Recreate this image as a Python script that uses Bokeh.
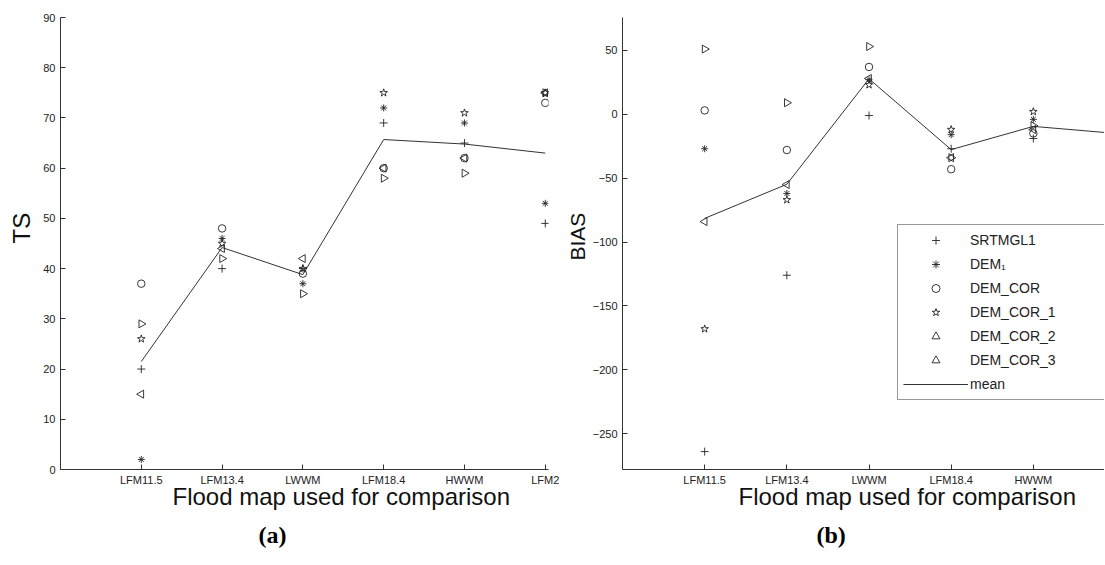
import numpy as np
from bokeh.plotting import figure
from bokeh.models import Range1d, FixedTicker, Legend, LegendItem, Title
from bokeh.layouts import row
from bokeh.embed import file_html
from bokeh.resources import INLINE

# ---------------- data ----------------
tick_labels_a = ["LFM11.5", "LFM13.4", "LWWM", "LFM18.4", "HWWM", "LFM2"]
tick_labels_b = ["LFM11.5", "LFM13.4", "LWWM", "LFM18.4", "HWWM"]

# (a) TS
ts_srtmgl1 = [20, 40, 40, 69, 65, 49]
ts_dem1 = [2, 46, 37, 72, 69, 53]
ts_dem_cor = [37, 48, 39, 60, 62, 73]
ts_dem_cor_1 = [26, 45, 40, 75, 71, 75]
ts_dem_cor_2 = [29, 42, 35, 58, 59, 75]
ts_dem_cor_3 = [15, 44, 42, 60, 62, 75]
ts_mean = [21.5, 44.2, 38.8, 65.7, 64.8, 63.0]

# (b) BIAS
bias_srtmgl1 = [-264, -126, -1, -27, -19]
bias_dem1 = [-27, -62, 27, -16, -4]
bias_dem_cor = [3, -28, 37, -43, -15]
bias_dem_cor_1 = [-168, -67, 23, -12, 2]
bias_dem_cor_2 = [51, 9, 53, -34, -9]
bias_dem_cor_3 = [-84, -55, 28, -34, -12]
bias_mean = [-81.5, -54.8, 27.7, -27.7, -9.5, -15.0]

series_names = ["SRTMGL1", "DEM\u2081", "DEM_COR", "DEM_COR_1", "DEM_COR_2", "DEM_COR_3"]
x_title = "Flood map used for comparison"

INK = "#222222"
AX = "#333333"
FONT = "Liberation Sans"
H = 564
TOP = 17
BOTTOM = 95


def style(p):
    p.outline_line_color = None
    p.xgrid.visible = False
    p.ygrid.visible = False
    p.background_fill_color = "white"
    p.border_fill_color = "white"
    for ax in (p.xaxis[0], p.yaxis[0]):
        ax.axis_line_color = AX
        ax.axis_line_width = 1
        ax.major_tick_line_color = AX
        ax.major_tick_in = 5
        ax.major_tick_out = 0
        ax.minor_tick_line_color = None
        ax.major_label_text_font = FONT
        ax.major_label_text_font_size = "11px"
        ax.major_label_text_color = INK
    p.xaxis[0].major_label_standoff = 4
    p.yaxis[0].major_label_standoff = 5


def add_titles(p, ylabel, ysize, yoff, ystand, xoff, caption, coff):
    p.add_layout(Title(text=ylabel, align="left", offset=yoff, standoff=ystand,
                       text_font=FONT, text_font_size=ysize, text_font_style="normal",
                       text_color="#111111"), "left")
    p.add_layout(Title(text=x_title, align="left", offset=xoff, standoff=-11,
                       vertical_align="top",
                       text_font=FONT, text_font_size="24px", text_font_style="normal",
                       text_color="#111111"), "below")
    p.add_layout(Title(text=caption, align="left", offset=coff, standoff=30,
                       vertical_align="top",
                       text_font="Liberation Serif", text_font_size="24px",
                       text_font_style="bold", text_color="#000000"), "below")


def add_points(p, vals_list):
    xs = [i + 1 for i in range(len(vals_list[0]))]
    rs = []
    specs = [
        dict(marker="cross", size=8),
        dict(marker="asterisk", size=7),
        dict(marker="circle", size=7.5),
        dict(marker="star", size=8),
        dict(marker="triangle", size=8, angle=-np.pi / 2),
        dict(marker="triangle", size=8, angle=np.pi / 2),
    ]
    for vals, sp in zip(vals_list, specs):
        r = p.scatter(xs, vals, line_color=INK, fill_color=None, line_width=0.9, **sp)
        rs.append(r)
    return rs


# ---------------- panel (a) ----------------
p1 = figure(width=562, height=H, output_backend="svg", toolbar_location=None,
            x_range=Range1d(0, 6.04), y_range=Range1d(0, 90),
            min_border_left=60, min_border_right=14, min_border_top=TOP, min_border_bottom=BOTTOM)
style(p1)
p1.xaxis[0].ticker = FixedTicker(ticks=list(range(1, len(tick_labels_a) + 1)))
p1.xaxis[0].major_label_overrides = {i + 1: t for i, t in enumerate(tick_labels_a)}
p1.yaxis[0].ticker = FixedTicker(ticks=list(range(0, 91, 10)))

p1.line([i + 1 for i in range(len(ts_mean))], ts_mean, line_color=AX, line_width=1)
add_points(p1, [ts_srtmgl1, ts_dem1, ts_dem_cor, ts_dem_cor_1, ts_dem_cor_2, ts_dem_cor_3])
add_titles(p1, "TS", "24px", 226, 11, 112, "(a)", 198)

# ---------------- panel (b) ----------------
p2 = figure(width=542, height=H, output_backend="svg", toolbar_location=None,
            x_range=Range1d(0, 5.866), y_range=Range1d(-278, 75.7),
            min_border_left=60, min_border_right=0, min_border_top=TOP, min_border_bottom=BOTTOM)
style(p2)
p2.xaxis[0].ticker = FixedTicker(ticks=list(range(1, len(tick_labels_b) + 1)))
p2.xaxis[0].major_label_overrides = {i + 1: t for i, t in enumerate(tick_labels_b)}
p2.yaxis[0].ticker = FixedTicker(ticks=list(range(-250, 51, 50)))

r_mean = p2.line([i + 1 for i in range(len(bias_mean))], bias_mean, line_color=AX, line_width=1)
rs = add_points(p2, [bias_srtmgl1, bias_dem1, bias_dem_cor, bias_dem_cor_1, bias_dem_cor_2, bias_dem_cor_3])

items = [LegendItem(label=n, renderers=[r]) for n, r in zip(series_names, rs)]
items.append(LegendItem(label="mean", renderers=[r_mean]))
leg = Legend(items=items, location=(275, 69), orientation="vertical",
             glyph_width=65, glyph_height=20, label_height=20, spacing=4, padding=5,
             margin=0, label_standoff=2, label_width=200,
             label_text_font=FONT, label_text_font_size="14px", label_text_color=INK,
             border_line_color=AX, border_line_width=1, background_fill_color="white",
             background_fill_alpha=1.0)
p2.add_layout(leg, "center")
add_titles(p2, "BIAS", "21px", 209, 1, 116, "(b)", 194)

layout = row(p1, p2)
open("out.html", "w").write(file_html(layout, INLINE))
